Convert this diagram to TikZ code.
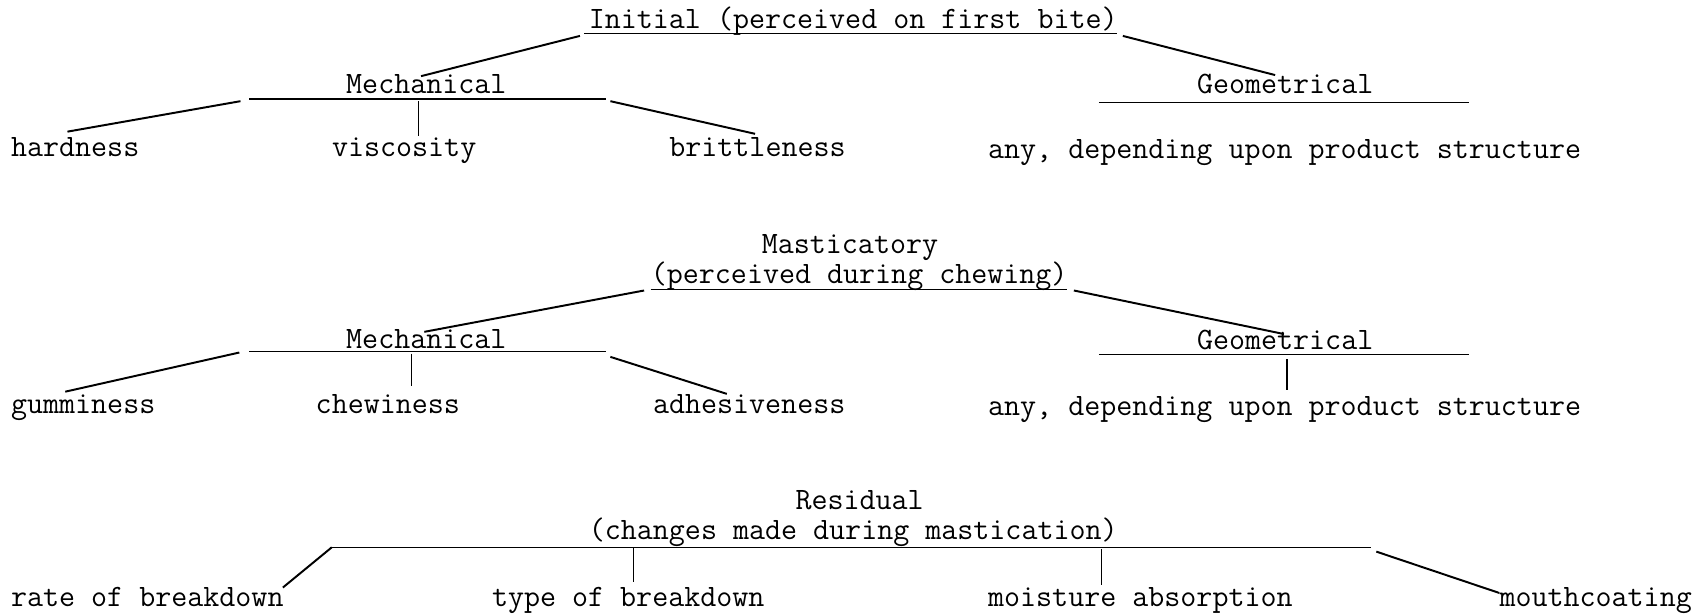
\documentclass[tikz,border=0pt]{standalone}
\begin{document}
\begin{tikzpicture}[x=1pt,y=-1pt,
  lbl/.style={inner sep=0pt, anchor=base west, font=\fontsize{28.6}{32}\selectfont\ttfamily},
  rule/.style={line width=1.4pt},
  link/.style={line width=1.8pt},
  stem/.style={line width=1pt}]
\useasboundingbox (0,0) rectangle (1568,564);

% ---------------- Initial ----------------
\node[lbl] (init) at (541,26) {Initial (perceived on first bite)};
\coordinate (initL) at (537,31); \coordinate (initR) at (1027,31);
\draw[rule] (initL) -- (initR);

\node[lbl] (mechA) at (318,86) {Mechanical};
\coordinate (mechAL) at (229,91); \coordinate (mechAR) at (557,91);
\draw[rule] (mechAL) -- (mechAR);
\coordinate (mechAup) at (387,70); \coordinate (initLa) at (533,33);
\draw[link] (mechAup) -- (initLa);

\node[lbl] (geoA) at (1100,86) {Geometrical};
\coordinate (geoAL) at (1010,94); \coordinate (geoAR) at (1350,94);
\draw[rule] (geoAL) -- (geoAR);
\coordinate (initRa) at (1032,33); \coordinate (geoAup) at (1172,69);
\draw[link] (initRa) -- (geoAup);

\node[lbl] (hard) at (10,144) {hardness};
\node[lbl] (visc) at (305,144) {viscosity};
\node[lbl] (brit) at (615,144) {brittleness};
\node[lbl] (anyA) at (908,146) {any, depending upon product structure};

\coordinate (hardup) at (62,121); \coordinate (mechALa) at (221,93);
\draw[link] (hardup) -- (mechALa);
\coordinate (viscA) at (385,93); \coordinate (viscB) at (385,125);
\draw[stem] (viscA) -- (viscB);
\coordinate (mechARa) at (561,93); \coordinate (britup) at (694,123);
\draw[link] (mechARa) -- (britup);

% ---------------- Masticatory ----------------
\node[lbl] (mast) at (700,233) {Masticatory};
\node[lbl] (mastb) at (598,261) {(perceived during chewing)};
\coordinate (mastL) at (598,266); \coordinate (mastR) at (981,266);
\draw[rule] (mastL) -- (mastR);

\node[lbl] (mechB) at (318,320) {Mechanical};
\coordinate (mechBL) at (229,323); \coordinate (mechBR) at (557,323);
\draw[rule] (mechBL) -- (mechBR);
\coordinate (mechBup) at (390,305); \coordinate (mastLa) at (592,267);
\draw[link] (mechBup) -- (mastLa);

\node[lbl] (geoB) at (1100,321) {Geometrical};
\coordinate (geoBL) at (1010,326); \coordinate (geoBR) at (1350,326);
\draw[rule] (geoBL) -- (geoBR);
\coordinate (mastRa) at (987,267); \coordinate (geoBup) at (1180,307);
\draw[link] (mastRa) -- (geoBup);

\node[lbl] (gum) at (10,380) {gumminess};
\node[lbl] (chew) at (290,380) {chewiness};
\node[lbl] (adh) at (600,380) {adhesiveness};
\node[lbl] (anyB) at (908,382) {any, depending upon product structure};

\coordinate (gumup) at (60,360); \coordinate (mechBLa) at (220,324);
\draw[link] (gumup) -- (mechBLa);
\coordinate (chewA) at (378,325); \coordinate (chewB) at (378,355);
\draw[stem] (chewA) -- (chewB);
\coordinate (mechBRa) at (561,328); \coordinate (adhup) at (668,362);
\draw[link] (mechBRa) -- (adhup);
\coordinate (geoBA) at (1183,330); \coordinate (geoBB) at (1183,358);
\draw[link] (geoBA) -- (geoBB);

% ---------------- Residual ----------------
\node[lbl] (resid) at (731,468) {Residual};
\node[lbl] (residb) at (541,496) {(changes made during mastication)};
\coordinate (resL) at (303,503); \coordinate (resR) at (1260,503);
\draw[rule] (resL) -- (resR);

\node[lbl] (rate) at (10,557) {rate of breakdown};
\node[lbl] (type) at (452,557) {type of breakdown};
\node[lbl] (moist) at (908,557) {moisture absorption};
\node[lbl] (mouth) at (1378,557) {mouthcoating};

\coordinate (resLa) at (305,503); \coordinate (rateup) at (260,540);
\draw[link] (resLa) -- (rateup);
\coordinate (typeA) at (582,503); \coordinate (typeB) at (582,535);
\draw[stem] (typeA) -- (typeB);
\coordinate (moistA) at (1012,505); \coordinate (moistB) at (1012,538);
\draw[stem] (moistA) -- (moistB);
\coordinate (resRa) at (1265,507); \coordinate (mouthup) at (1378,545);
\draw[link] (resRa) -- (mouthup);
\end{tikzpicture}
\end{document}
